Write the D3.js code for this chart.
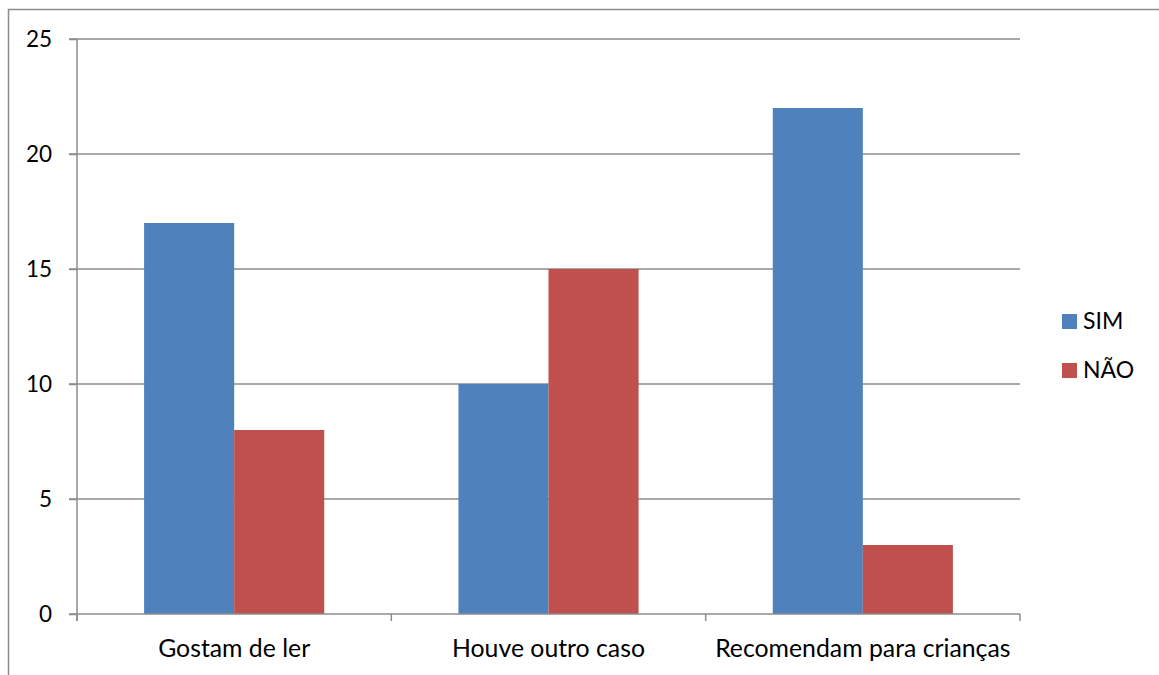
<!DOCTYPE html>
<html>
<head>
<meta charset="utf-8">
<script src="https://cdn.jsdelivr.net/npm/d3@7"></script>
<style>
  html, body { margin: 0; padding: 0; background: #fff; }
  svg { display: block; font-family: Lato, "Open Sans", sans-serif; }
</style>
</head>
<body>
<svg id="chart" width="1159" height="675"></svg>
<script>
// Survey answers per question
const categories = ["Gostam de ler", "Houve outro caso", "Recomendam para crianças"];
const seriesNames = ["SIM", "NÃO"];
const simValues = [17, 10, 22];
const naoValues = [8, 15, 3];
const yTicks = [0, 5, 10, 15, 20, 25];
const colors = ["#4F81BD", "#C0504D"];

const svg = d3.select("#chart");
const plot = { left: 77, right: 1020, top: 39, bottom: 614 };
const gridColor = "#8c8c8c";

// Outer chart frame
svg.append("rect")
  .attr("x", 8.5).attr("y", 9.5)
  .attr("width", 1200).attr("height", 700)
  .attr("fill", "none").attr("stroke", gridColor).attr("stroke-width", 1.5);

const x0 = d3.scaleBand().domain(categories).range([plot.left, plot.right]).paddingInner(0).paddingOuter(0);
const x1 = d3.scaleBand().domain(seriesNames).range([0, x0.bandwidth()]).paddingInner(0).paddingOuter(0.745);
const y = d3.scaleLinear().domain([0, 25]).range([plot.bottom, plot.top]);

// Horizontal gridlines
svg.append("g").selectAll("line").data(yTicks.filter(d => d > 0)).join("line")
  .attr("x1", plot.left - 8).attr("x2", plot.right)
  .attr("y1", d => y(d)).attr("y2", d => y(d))
  .attr("stroke", gridColor).attr("stroke-width", 1.5);

// Bars
const rows = categories.map((c, i) => ({ cat: c, vals: [simValues[i], naoValues[i]] }));
svg.append("g").selectAll("g").data(rows).join("g")
  .attr("transform", d => `translate(${x0(d.cat)},0)`)
  .selectAll("rect").data(d => d.vals.map((v, j) => ({ name: seriesNames[j], v, j })))
  .join("rect")
  .attr("x", d => x1(d.name))
  .attr("width", x1.bandwidth())
  .attr("y", d => y(d.v))
  .attr("height", d => y(0) - y(d.v))
  .attr("fill", d => colors[d.j]);

// Y axis
const yAxis = svg.append("g").attr("transform", `translate(${plot.left},0)`)
  .call(d3.axisLeft(y).tickValues(yTicks).tickSize(8).tickPadding(17));
yAxis.select(".domain").attr("stroke", gridColor).attr("stroke-width", 1.5)
  .attr("d", `M0,${plot.top}V${plot.bottom + 7}`);
yAxis.selectAll(".tick line").attr("stroke", gridColor).attr("stroke-width", 1.5);
yAxis.selectAll("text").attr("font-size", 22.5).attr("fill", "#000")
  .attr("font-family", "Lato, sans-serif");

// X axis baseline with boundary ticks
const xAxis = svg.append("g");
xAxis.append("line")
  .attr("x1", plot.left - 8).attr("x2", plot.right)
  .attr("y1", plot.bottom).attr("y2", plot.bottom)
  .attr("stroke", gridColor).attr("stroke-width", 1.5);
const bounds = categories.map(c => x0(c)).concat([x0(categories[categories.length - 1]) + x0.bandwidth()]);
xAxis.selectAll("line.b").data(bounds).join("line").attr("class", "b")
  .attr("x1", d => d).attr("x2", d => d)
  .attr("y1", plot.bottom).attr("y2", plot.bottom + 7)
  .attr("stroke", gridColor).attr("stroke-width", 1.5);
xAxis.selectAll("text").data(categories).join("text")
  .attr("x", d => x0(d) + x0.bandwidth() / 2)
  .attr("y", 657)
  .attr("text-anchor", "middle")
  .attr("font-size", 24.8)
  .attr("fill", "#000")
  .text(d => d);

// Legend
const legend = svg.append("g").selectAll("g").data(seriesNames).join("g")
  .attr("transform", (d, i) => `translate(1062,${314 + i * 49})`);
legend.append("rect").attr("width", 15).attr("height", 15).attr("fill", (d, i) => colors[i]);
legend.append("text").attr("x", 21).attr("y", 15).attr("font-size", 23).attr("fill", "#000").text(d => d);
</script>
</body>
</html>
